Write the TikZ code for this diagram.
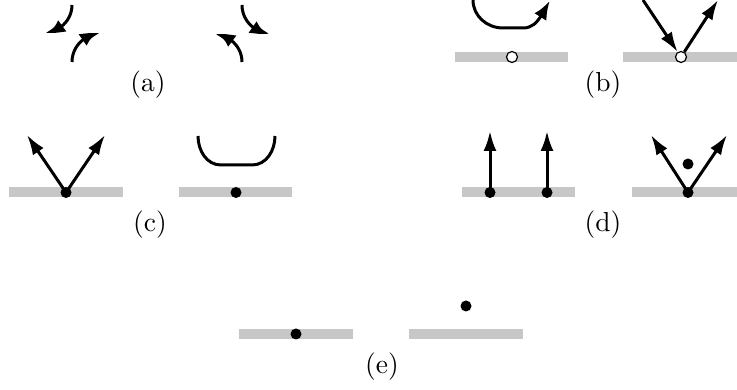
\documentclass[tikz,border=0pt]{standalone}
\usepackage{fontspec}
\usetikzlibrary{arrows.meta, bending}

\begin{document}
\begin{tikzpicture}[x=1pt,y=1pt,
  bar/.style={draw=black!22, line width=10pt},
  arr/.style={line width=3pt, -{Latex[length=20pt,width=13pt]}},
  bentarr/.style={line width=3pt, -{Latex[length=19pt,width=14pt,bend]}},
  curve/.style={line width=3pt},
  dot/.style={circle, fill=black, inner sep=0pt, minimum size=11pt},
  hole/.style={circle, draw=black, fill=white, line width=1.2pt, inner sep=0pt, minimum size=11pt},
  lbl/.style={scale=2.75}]
\useasboundingbox (0,0) rectangle (737,390);
% (a)
\draw[bentarr] (72,385) arc[start angle=0, end angle=-90, radius=27];
\draw[bentarr] (72,328) arc[start angle=180, end angle=90, radius=28];
\draw[bentarr] (242,385) arc[start angle=180, end angle=270, radius=28];
\draw[bentarr] (242,328) arc[start angle=0, end angle=90, radius=27];
\node[lbl] (la) at (148,305) {(a)};
% (b)
\draw[bar] (455,333) -- (568,333);
\draw[bar] (623,333) -- (737,333);
\draw[bentarr] (473,390) to[out=-90,in=180] (503,362) -- (523,362) to[out=0,in=-125] (550,389);
\node[hole] (b1) at (512,333) {};
\node[hole] (b2) at (681,333) {};
\coordinate (b2in) at (643,390);
\coordinate (b2out) at (718,390);
\draw[arr] (b2in) -- (b2);
\draw[arr] (b2) -- (b2out);
\node[lbl] (lb) at (603,305) {(b)};
% (c)
\draw[bar] (9,197.5) -- (123,197.5);
\draw[bar] (179,197.5) -- (292,197.5);
\coordinate (c1l) at (27,255);
\coordinate (c1r) at (105,255);
\draw[arr] (66,197.5) -- (c1l);
\draw[arr] (66,197.5) -- (c1r);
\draw[curve] (198,254) to[out=-90,in=180] (221,225) -- (252,225) to[out=0,in=-90] (275,254);
\node[dot] (c1) at (66,197.5) {};
\node[dot] (c2) at (236,197.5) {};
\node[lbl] (lc) at (150,165) {(c)};
% (d)
\draw[bar] (462,197.5) -- (575,197.5);
\draw[bar] (632,197.5) -- (737,197.5);
\coordinate (d1u) at (490,259);
\coordinate (d2u) at (547,259);
\coordinate (d3l) at (651,255);
\coordinate (d3r) at (727,255);
\draw[arr] (490,197.5) -- (d1u);
\draw[arr] (547,197.5) -- (d2u);
\draw[arr] (688,197.5) -- (d3l);
\draw[arr] (688,197.5) -- (d3r);
\node[dot] (d1) at (490,197.5) {};
\node[dot] (d2) at (547,197.5) {};
\node[dot] (d3) at (688,197.5) {};
\node[dot] (d4) at (688,226) {};
\node[lbl] (ld) at (603,165) {(d)};
% (e)
\draw[bar] (239,56) -- (353,56);
\draw[bar] (409,56) -- (523,56);
\node[dot] (e1) at (296,56) {};
\node[dot] (e2) at (466,84) {};
\node[lbl] (le) at (382,23) {(e)};
\end{tikzpicture}
\end{document}
